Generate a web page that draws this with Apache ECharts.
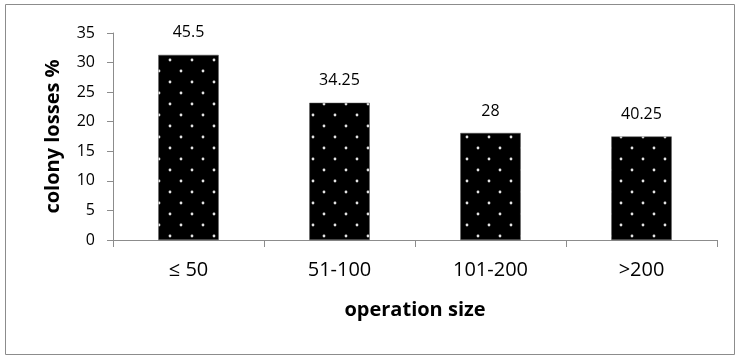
<!DOCTYPE html>
<html>
<head>
<meta charset="utf-8">
<script src="https://cdn.jsdelivr.net/npm/echarts@6/dist/echarts.min.js"></script>
<style>
  html, body { margin: 0; padding: 0; background: #fff; }
  #chart { width: 736px; height: 356px; }
</style>
</head>
<body>
<div id="chart"></div>
<script>
// Operation size classes on the x axis
const categories = ['≤ 50', '51-100', '101-200', '>200'];
// Colony losses (%) per class
const lossValues = [31.3, 23.2, 18.1, 17.5];
// Annotation printed above each bar
const barNotes = ['45.5', '34.25', '28', '40.25'];
// Y axis range
const yMin = 0, yMax = 35, yStep = 5;

// Black fill with a staggered grid of small white dots
function dottedTile() {
  const c = document.createElement('canvas');
  c.width = 22; c.height = 22;
  const g = c.getContext('2d');
  g.fillStyle = '#000';
  g.fillRect(0, 0, 22, 22);
  g.fillStyle = '#e4e4e4';
  [[5, 5], [16, 16]].forEach(([x, y]) => {
    g.beginPath();
    g.arc(x, y, 1.4, 0, Math.PI * 2);
    g.fill();
  });
  return c;
}

const FONT = '"Open Sans"';
const chart = echarts.init(document.getElementById('chart'), null, { renderer: 'canvas' });
chart.setOption({
  animation: false,
  textStyle: { fontFamily: FONT },
  graphic: [{
    type: 'rect',
    shape: { x: 5.5, y: 4.5, width: 729, height: 350 },
    style: { fill: 'none', stroke: '#8c8c8c', lineWidth: 1 },
    silent: true
  }],
  grid: { left: 113, right: 19, top: 33, bottom: 116 },
  xAxis: {
    type: 'category',
    data: categories,
    name: 'operation size',
    nameLocation: 'middle',
    nameGap: 60,
    nameTextStyle: { fontFamily: FONT, fontSize: 20, fontWeight: 'bold', color: '#000' },
    axisLine: { lineStyle: { color: '#8c8c8c', width: 1 } },
    axisTick: { show: true, length: 7, lineStyle: { color: '#8c8c8c' }, alignWithLabel: false },
    axisLabel: { fontFamily: FONT, fontSize: 20, color: '#000', margin: 20 }
  },
  yAxis: {
    type: 'value',
    min: yMin, max: yMax, interval: yStep,
    name: 'colony losses %',
    nameLocation: 'middle',
    nameGap: 50,
    nameTextStyle: { fontFamily: FONT, fontSize: 20, fontWeight: 'bold', color: '#000' },
    axisLine: { show: true, lineStyle: { color: '#8c8c8c', width: 1 } },
    axisTick: { show: true, length: 6, lineStyle: { color: '#8c8c8c' } },
    splitLine: { show: false },
    axisLabel: { fontFamily: FONT, fontSize: 16, color: '#000', margin: 18 }
  },
  series: [{
    type: 'bar',
    data: lossValues,
    barWidth: '40%',
    itemStyle: {
      color: { image: dottedTile(), repeat: 'repeat' },
      borderColor: '#555',
      borderWidth: 0.5
    },
    label: {
      show: true,
      position: 'top',
      distance: 14,
      fontFamily: FONT,
      fontSize: 16,
      color: '#000',
      formatter: p => barNotes[p.dataIndex]
    }
  }]
});
</script>
</body>
</html>
